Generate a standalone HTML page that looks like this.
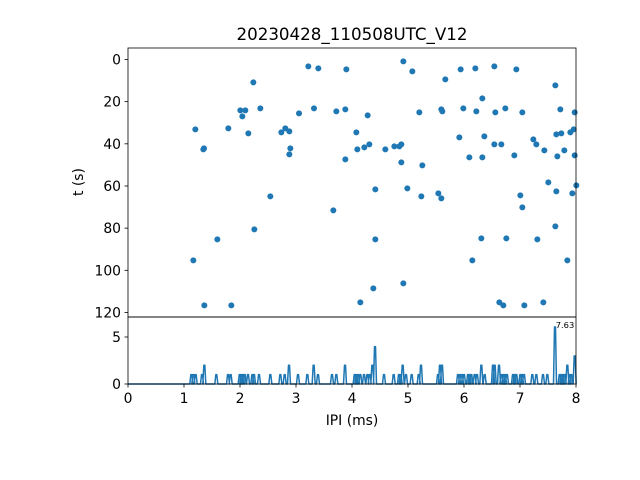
<!DOCTYPE html><html><head><style>body{margin:0;background:#fff}svg{display:block}text{font-family:"DejaVu Sans","Liberation Sans",sans-serif;fill:#000}</style></head><body>
<svg id="s" width="640" height="480" xmlns="http://www.w3.org/2000/svg">
<text x="352" y="40" font-size="16.7" text-anchor="middle">20230428_110508UTC_V12</text>
<g id="pts" fill="#1f77b4"></g>
<path id="hist" fill="none" stroke="#1f77b4" stroke-width="1.5" stroke-linejoin="round"></path>
<rect x="128" y="48" width="448" height="269" fill="none" stroke="#000" stroke-width="0.8"/>
<rect x="128" y="317" width="448" height="67" fill="none" stroke="#000" stroke-width="0.8"/>
<g id="ax" stroke="#000" stroke-width="0.8"></g>
<g id="lbl" font-size="13.9"></g>
<text x="565" y="328" font-size="8.3" text-anchor="middle">7.63</text>
<text x="352" y="425" font-size="13.9" text-anchor="middle">IPI (ms)</text>
<text transform="translate(83,182) rotate(-90)" font-size="13.9" text-anchor="middle">t (s)</text>
</svg>
<script>
var ns="http://www.w3.org/2000/svg";
function el(p,t,a,txt){var e=document.createElementNS(ns,t);for(var k in a)e.setAttribute(k,a[k]);if(txt!=null)e.textContent=txt;p.appendChild(e);}
var z1=[[541,55],[571,61],[655,64],[376,103],[337,187],[352,187],[397,181],[343,205],[513,196],[558,181],[625,190],[652,184],[202,244],[301,241],[361,256],[460,253],[472,241],[484,250],[228,301],[226,304],[487,301],[484,319],[652,334],[427,445],[616,487],[379,544],[268,574],[196,637],[229,772],[310,772]];
var z2=[[154,40],[181,70],[326,64],[370,61],[427,55],[493,64],[610,112],[280,94],[391,151],[47,202],[202,193],[268,184],[271,190],[334,181],[373,190],[430,193],[460,181],[511,193],[625,184],[668,193],[13,253],[16,304],[37,298],[52,289],[100,304],[127,295],[142,295],[148,289],[322,268],[397,265],[427,289],[448,289],[544,274],[553,289],[577,307],[613,259],[628,256],[655,253],[665,244],[637,307],[616,325],[668,322],[352,328],[391,328],[487,322],[148,343],[211,352],[70,424],[166,421],[208,445],[259,436],[268,451],[589,403],[613,430],[661,436],[673,412],[505,442],[511,478],[610,535],[70,574],[388,571],[463,571],[556,574],[361,637],[646,637],[64,721],[154,706],[25,763],[442,763],[454,772],[517,772],[574,763]];
var g=document.getElementById('pts');
z1.forEach(function(p){el(g,'circle',{cx:128+p[0]/3,cy:48+p[1]/3,r:3});});
z2.forEach(function(p){var x=352+p[0]/3;if(x<=577)el(g,'circle',{cx:x,cy:48+p[1]/3,r:3});});
var sp=[[190,1],[196,1],[203,1],[222,1],[229,2],[265,1],[300,1],[308,1],[335,1],[340,1],[345,1],[350,1],[360,1],[373,1],[378,1],[393,1],[427,1],[457,1],[470,1],[483,2],[510,1],[538,1],[557,2],[570,1],[612,1],[625,1],[651,2],[680,1],[685,1],[690,1],[697,1],[708,1],[718,1],[725,1],[733,2],[741,4],[768,1],[797,1],[813,1],[818,1],[824,2],[834,1],[851,1],[872,1],[879,2],[930,1],[936,2],[942,2],[990,1],[996,1],[1002,1],[1008,1],[1020,1],[1025,1],[1030,1],[1040,1],[1047,1],[1060,2],[1070,1],[1095,2],[1100,2],[1113,2],[1120,1],[1126,1],[1131,1],[1137,1],[1155,1],[1160,1],[1165,1],[1177,1],[1182,1],[1188,1],[1213,1],[1225,1],[1245,1],[1258,1],[1281,6.1],[1295,1],[1300,1],[1305,1],[1310,1],[1318,2],[1325,1],[1330,1],[1340,3]];
var d="M128,384";var u=9.35;
sp.forEach(function(s){var x=128+s[0]/3;d+=" L"+(x-1.5)+",384 L"+(x-0.5)+","+(384-s[1]*u)+" L"+(x+0.5)+","+(384-s[1]*u)+" L"+(x+1.5)+",384";});
d+=" L576,384";document.getElementById('hist').setAttribute('d',d);
var ax=document.getElementById('ax'),lb=document.getElementById('lbl');
for(var i=0;i<=8;i++){var x=128+56*i;el(ax,'line',{x1:x,y1:384,x2:x,y2:387.5});el(lb,'text',{x:x,y:403,'text-anchor':'middle'},i);}
for(var t=0;t<=120;t+=20){var y=59.5+t*2.108;el(ax,'line',{x1:124.5,y1:y,x2:128,y2:y});el(lb,'text',{x:121,y:y+5,'text-anchor':'end'},t);}
[[0,384],[5,337]].forEach(function(a){el(ax,'line',{x1:124.5,y1:a[1],x2:128,y2:a[1]});el(lb,'text',{x:121,y:a[1]+5,'text-anchor':'end'},a[0]);});
</script>
</body></html>
